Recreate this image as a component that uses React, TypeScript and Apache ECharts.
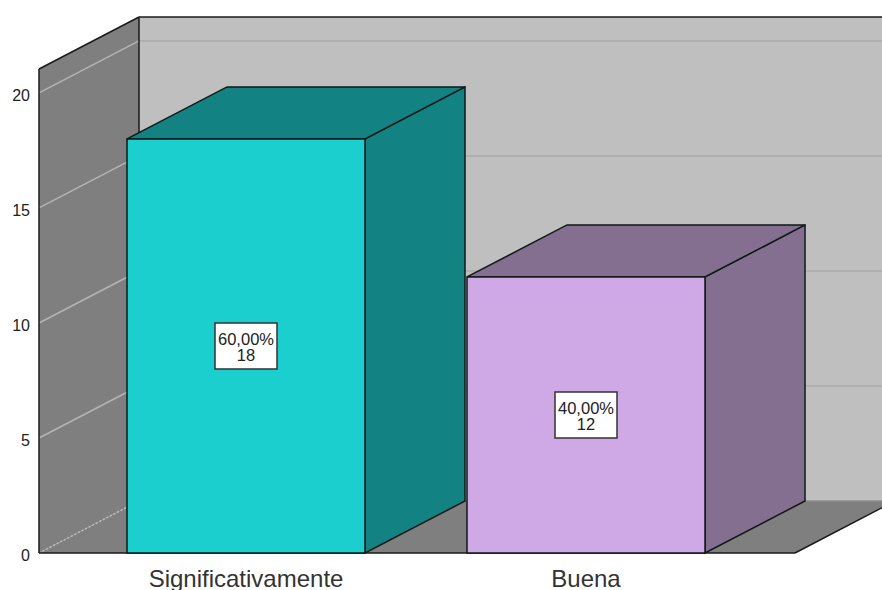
import React, { useEffect, useRef } from "react";
import * as echarts from "echarts";

const categories = ["Significativamente", "Buena"];
const counts = [18, 12];
const percentLabels = ["60,00%", "40,00%"];
const yTicks = [0, 5, 10, 15, 20];
const frontColors = ["#1BCFCF", "#CEA9E6"];
const sideColors = ["#128282", "#856F91"];
const FONT = '"Liberation Sans", Arial, sans-serif';

const DX = 100;
const DY = -52;
const WALL_LEFT = 39;
const FLOOR_RIGHT = 795;
const Y_MAX = 21.04;

function poly(points: number[][], fill: string, stroke?: string, lineWidth = 1.5) {
  return {
    type: "polygon",
    shape: { points },
    style: { fill, stroke: stroke || "none", lineWidth },
    silent: true,
  };
}
function seg(x1: number, y1: number, x2: number, y2: number, stroke: string, lineWidth = 1.5, lineDash?: number[]) {
  return {
    type: "line",
    shape: { x1, y1, x2, y2 },
    style: { stroke, lineWidth, lineDash: lineDash || null },
    silent: true,
  };
}

function renderWalls(_p: any, api: any) {
  const y0 = api.coord([0, 0])[1];
  const yTop = api.coord([0, Y_MAX])[1];
  const backL = WALL_LEFT + DX;
  const children: any[] = [];
  children.push(poly([[backL, yTop + DY], [backL + 800, yTop + DY], [backL + 800, y0 + DY], [backL, y0 + DY]], "#BFBFBF"));
  children.push(poly([[WALL_LEFT, yTop], [backL, yTop + DY], [backL, y0 + DY], [WALL_LEFT, y0]], "#7F7F7F"));
  children.push(poly([[WALL_LEFT, y0], [FLOOR_RIGHT, y0], [FLOOR_RIGHT + DX, y0 + DY], [backL, y0 + DY]], "#7F7F7F"));
  yTicks.forEach((t) => {
    const y = api.coord([0, t])[1];
    if (t === 0) {
      children.push(seg(WALL_LEFT, y, backL, y + DY, "#BFBFBF", 1.5, [2, 2]));
      children.push(seg(backL, y + DY, backL + 800, y + DY, "#8C8C8C", 1.5));
    } else {
      children.push(seg(WALL_LEFT, y, backL, y + DY, "#B4B4B4", 1.5));
      children.push(seg(backL, y + DY, backL + 800, y + DY, "#ABABAB", 1.5));
    }
  });
  children.push(seg(WALL_LEFT, yTop, WALL_LEFT, y0, "#1A1A1A"));
  children.push(seg(WALL_LEFT, yTop, backL, yTop + DY, "#1A1A1A"));
  children.push(seg(backL, yTop + DY, backL, y0 + DY, "#1A1A1A"));
  children.push(seg(backL, yTop + DY, backL + 800, yTop + DY, "#1A1A1A"));
  children.push(seg(WALL_LEFT, y0, FLOOR_RIGHT, y0, "#1A1A1A"));
  children.push(seg(FLOOR_RIGHT, y0, FLOOR_RIGHT + DX, y0 + DY, "#1A1A1A"));
  return { type: "group", children };
}

function renderBar(_p: any, api: any) {
  const i = api.value(0);
  const [cx, top] = api.coord([i, api.value(1)]);
  const [, base] = api.coord([i, 0]);
  const w = api.size([1, 0])[0] * 0.7;
  const l = cx - w / 2;
  const r = cx + w / 2;
  const my = (top + base) / 2;
  const edge = "#101818";
  return {
    type: "group",
    children: [
      poly([[r, top], [r + DX, top + DY], [r + DX, base + DY], [r, base]], sideColors[i], edge),
      poly([[l, top], [l + DX, top + DY], [r + DX, top + DY], [r, top]], sideColors[i], edge),
      poly([[l, top], [r, top], [r, base], [l, base]], frontColors[i], edge),
      {
        type: "rect",
        shape: { x: cx - 31, y: my - 23, width: 62, height: 46 },
        style: { fill: "#FFFFFF", stroke: "#333333", lineWidth: 1.5 },
        silent: true,
      },
      {
        type: "text",
        style: {
          x: cx,
          y: my + 1,
          text: percentLabels[i] + "\n" + api.value(1),
          align: "center",
          verticalAlign: "middle",
          fill: "#222222",
          font: "16.5px " + FONT,
          lineHeight: 16.5,
        },
        silent: true,
      },
    ],
  };
}

export default function App() {
  const ref = useRef<HTMLDivElement>(null);
  useEffect(() => {
    document.body.style.margin = "0";
    document.body.style.overflow = "hidden";
    const chart = echarts.init(ref.current!, null, { renderer: "svg" });
    chart.setOption({
      animation: false,
      backgroundColor: "#FFFFFF",
      grid: { left: 76, top: 69, width: 680, height: 484, outerBoundsMode: "none" },
      xAxis: {
        type: "category",
        data: categories,
        axisLine: { show: false },
        axisTick: { show: false },
        axisLabel: { fontFamily: FONT, fontSize: 24, color: "#333333", margin: 13 },
      },
      yAxis: {
        type: "value",
        min: 0,
        max: Y_MAX,
        interval: 5,
        offset: 37,
        axisLine: { show: false },
        axisTick: { show: false },
        splitLine: { show: false },
        axisLabel: { fontFamily: FONT, fontSize: 16, color: "#222222", margin: 9, showMaxLabel: false, verticalAlign: "top", lineHeight: 5 },
      },
      series: [
        { type: "custom", renderItem: renderWalls, data: [[0, 0]], z: 1, silent: true },
        {
          type: "custom",
          renderItem: renderBar,
          data: counts.map((v, i) => [i, v]),
          encode: { x: 0, y: 1 },
          z: 2,
          silent: true,
        },
      ],
    });
    return () => chart.dispose();
  }, []);
  return <div ref={ref} style={{ width: 882, height: 590 }} />;
}
